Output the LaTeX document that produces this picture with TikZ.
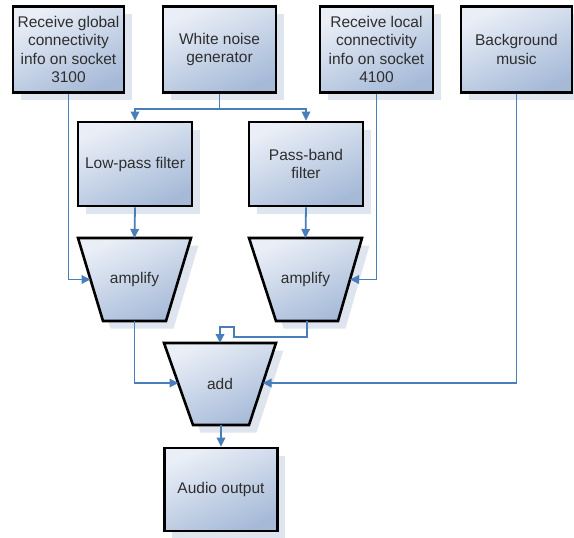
\documentclass[tikz,border=0pt]{standalone}
\usepackage{fontspec}
\setmainfont{Liberation Sans}
\usetikzlibrary{arrows.meta,shadows}
\definecolor{wire}{HTML}{4A7EBB}
\definecolor{boxlight}{HTML}{EAEFF7}
\definecolor{boxdark}{HTML}{A6BAD8}
\definecolor{shadowgray}{HTML}{DFE5EE}
\definecolor{label}{HTML}{2E2E2E}

\begin{document}
\begin{tikzpicture}[x=1pt,y=-1pt,
  skin/.style={draw=black, line width=2.6pt, line join=miter,
    top color=boxlight, bottom color=boxdark, shading angle=25,
    drop shadow={shadow xshift=7.5pt, shadow yshift=-7.5pt, fill=shadowgray, opacity=1}},
  words/.style={align=center, text=label, inner sep=2pt,
    font=\fontsize{15.5}{18.6}\selectfont},
  box/.style 2 args={skin, words, rectangle, minimum width=#1, minimum height=#2},
  wire/.style={draw=wire, line width=1.8pt,
    -{Triangle[length=9pt,width=8.5pt]}},
  plain/.style={draw=wire, line width=1.8pt}]

\useasboundingbox (0,0) rectangle (574,538);

% sources along the top
\node[box={111}{86}] (recvG) at (68.5,49.5) {Receive global\\connectivity\\info on socket\\3100};
\node[box={113}{86}] (noise) at (219.5,49.5) {White noise\\generator};
\node[box={113}{86}] (recvL) at (376.5,49.5) {Receive local\\connectivity\\info on socket\\4100};
\node[box={111}{86}] (music) at (516.5,49.5) {Background\\music};

% filters
\node[box={114}{84}] (lowpass) at (135,164) {Low-pass filter};
\node[box={114}{84}] (passband) at (306,164) {Pass-band\\filter};

% amplifiers and mixer: funnel bodies, wide side up
\path[skin] (78,238) -- (191,238) -- (166,321) -- (103,321) -- cycle;
\path[skin] (249,238) -- (362,238) -- (338,321) -- (276,321) -- cycle;
\path[skin] (164,343) -- (276,343) -- (249,425) -- (193,425) -- cycle;
\node[words] (ampL) at (134.5,279.5) {amplify};
\node[words] (ampR) at (305.5,279.5) {amplify};
\node[words] (add) at (220,384) {add};

% ports on the funnel edges
\coordinate (ampLtop) at (134.5,238);
\coordinate (ampRtop) at (305.5,238);
\coordinate (ampLbot) at (134.5,321);
\coordinate (ampRbot) at (307,321);
\coordinate (ampLside) at (90.5,279.5);
\coordinate (ampRside) at (350,279.5);
\coordinate (addtop) at (220,343);
\coordinate (addbot) at (221,425);
\coordinate (addleft) at (178.5,383);
\coordinate (addright) at (262.5,383);

% sink
\node[box={113}{83}] (audio) at (221,489.5) {Audio output};

% noise generator feeds both filters
\coordinate (fork) at (219.5,109);
\draw[plain] (noise.south) -- (fork);
\draw[wire] (fork) -| (lowpass.north);
\draw[wire] (fork) -| (passband.north);

% filters into amplifiers
\draw[wire] (lowpass.south) -- (ampLtop);
\draw[wire] (passband.south) -- (ampRtop);

% gain control from the sockets
\draw[wire] (recvG.south) |- (ampLside);
\draw[wire] (recvL.south) |- (ampRside);

% amplified signals and music into the mixer
\draw[wire] (ampLbot) |- (addleft);
\draw[wire] (music.south) |- (addright);
\coordinate (jogA) at (234,337);
\coordinate (jogB) at (234,327);
\coordinate (jogC) at (220,327);
\draw[wire] (ampRbot) |- (jogA) -- (jogB) -- (jogC) -- (addtop);

% mixer to output
\draw[wire] (addbot) -- (audio.north);
\end{tikzpicture}
\end{document}
